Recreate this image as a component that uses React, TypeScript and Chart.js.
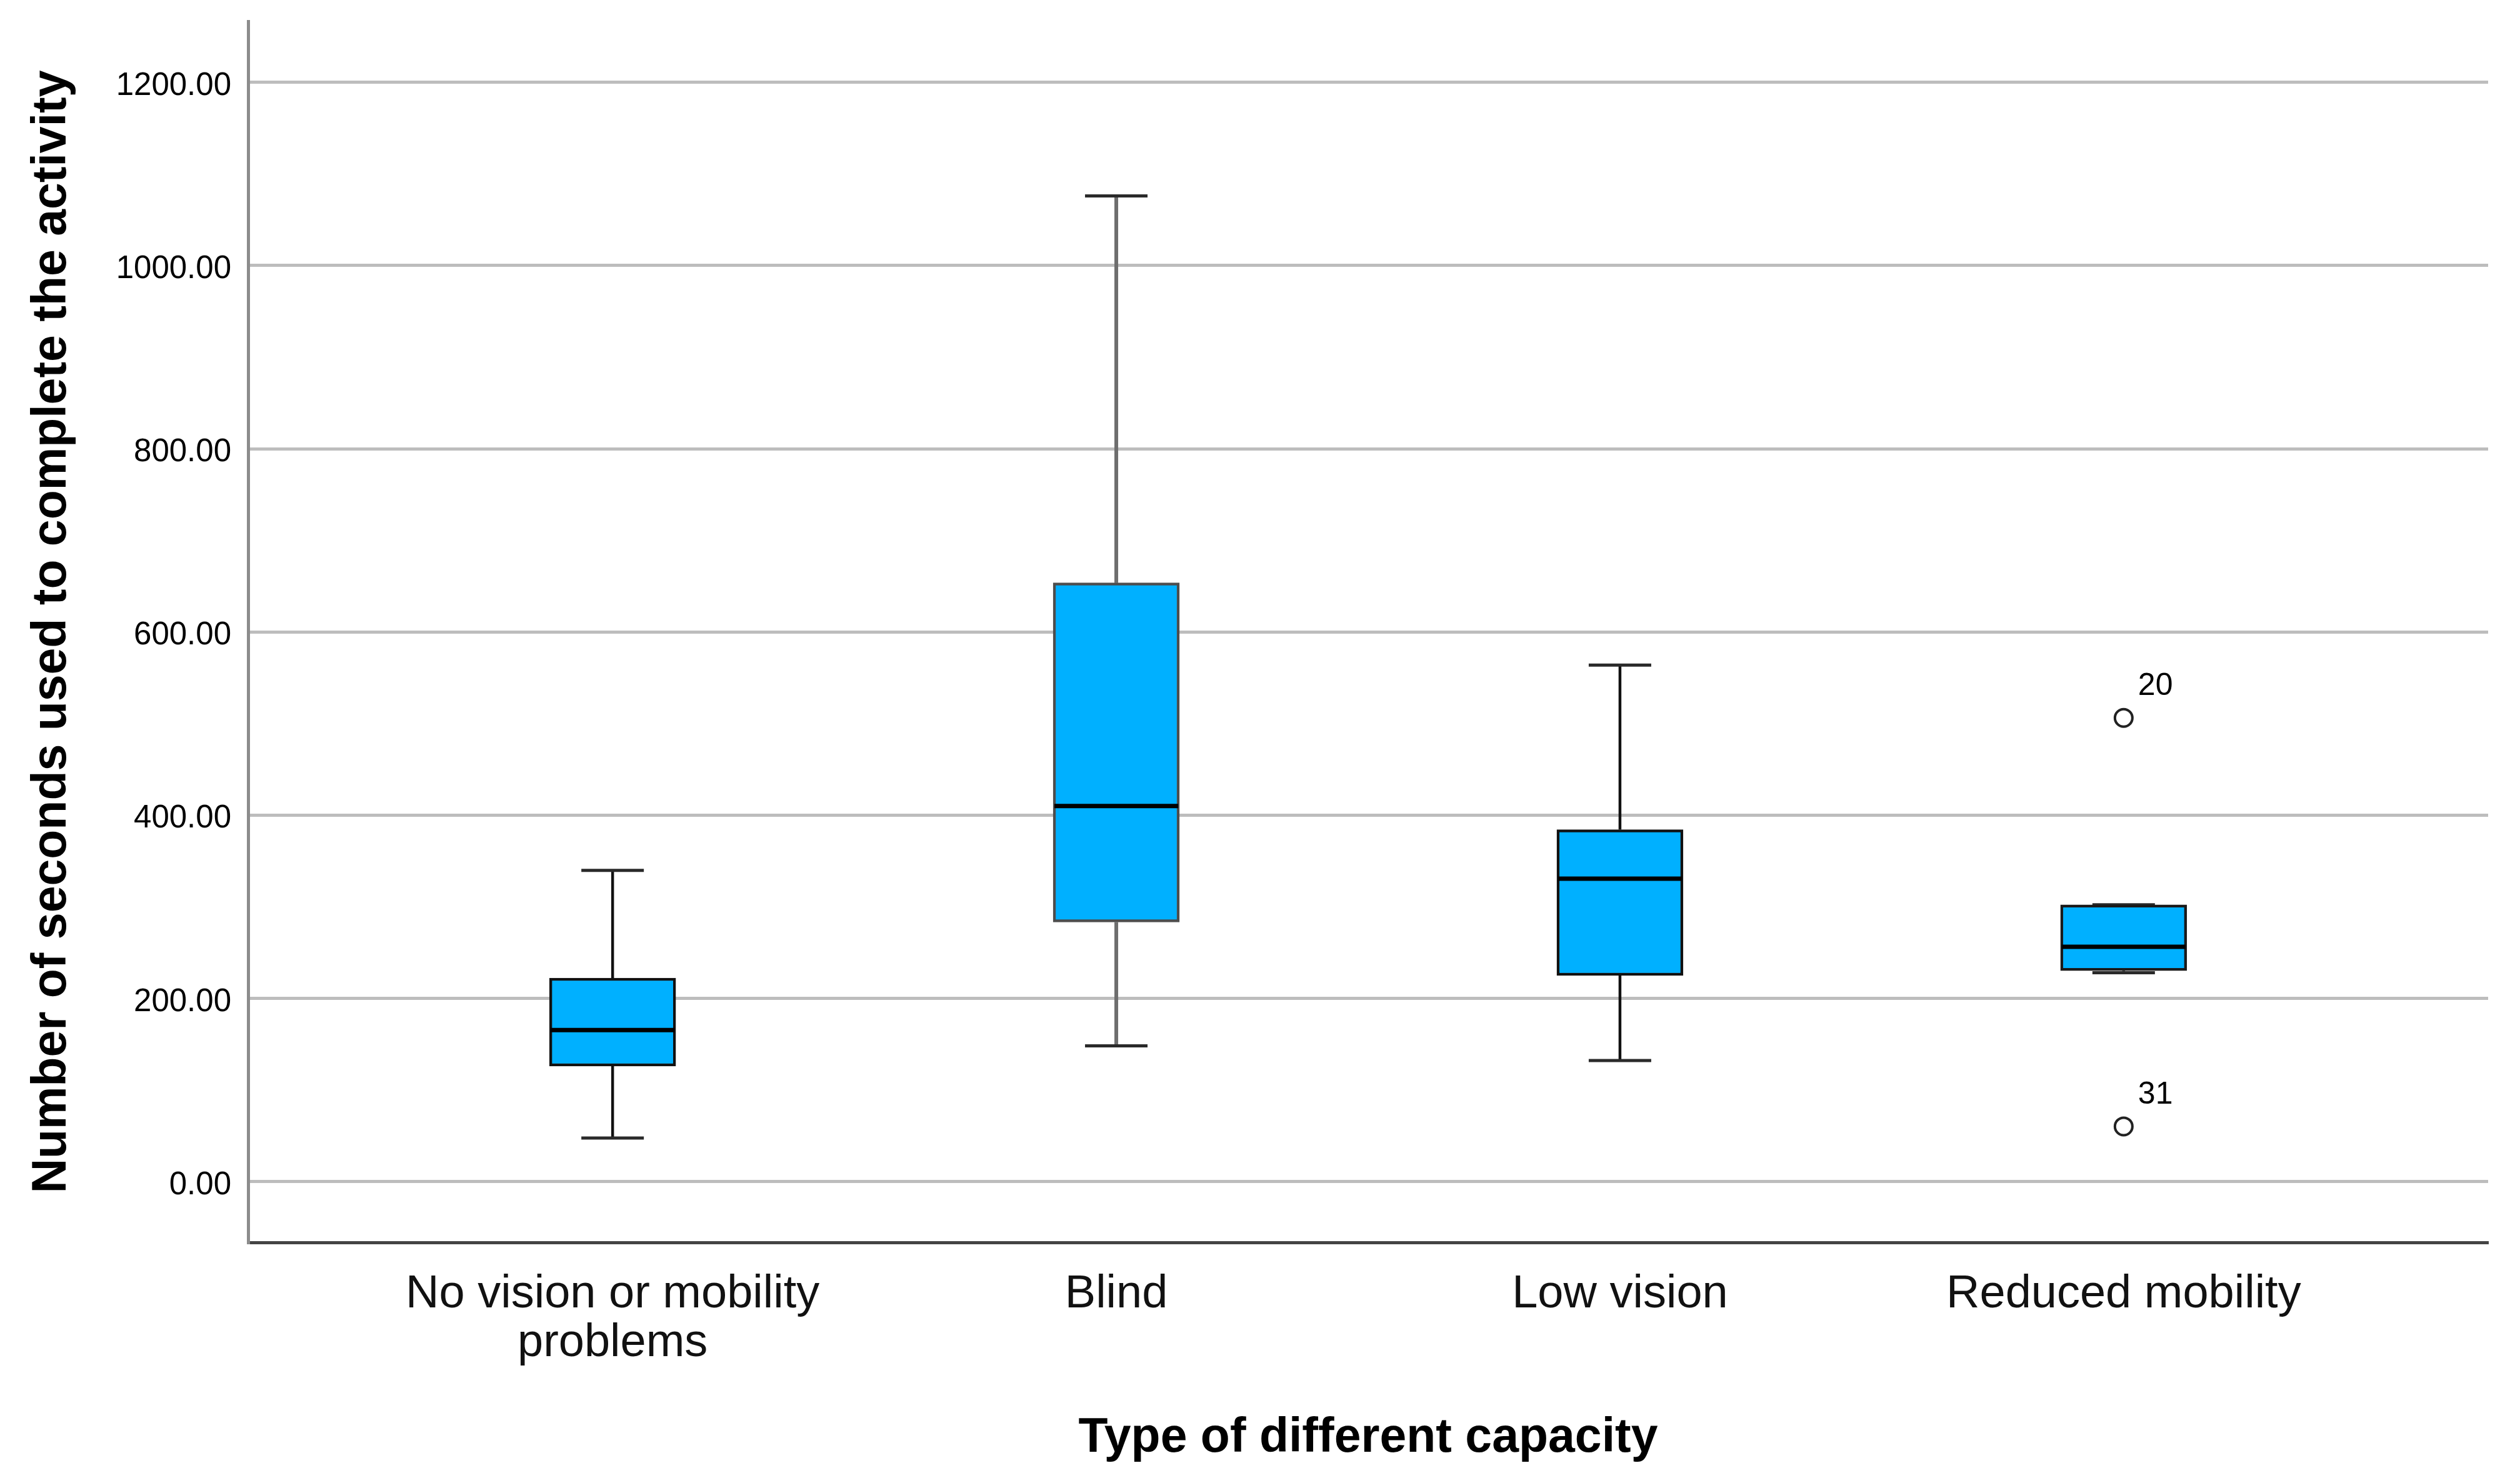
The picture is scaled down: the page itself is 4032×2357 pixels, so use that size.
import React, { useEffect, useRef } from 'react';
import { Chart, registerables } from 'chart.js';

Chart.register(...registerables);

// ---- data ----
const CATEGORIES = ['No vision or mobility problems', 'Blind', 'Low vision', 'Reduced mobility'];
const CATEGORY_LINES = [['No vision or mobility', 'problems'], ['Blind'], ['Low vision'], ['Reduced mobility']];
const WHISKER_MIN = [47.6, 148.2, 132.1, 228.0];
const Q1 = [126.0, 283.3, 224.9, 230.2];
const MEDIAN = [165.4, 410.0, 330.7, 256.3];
const Q3 = [222.2, 653.6, 384.2, 302.2];
const WHISKER_MAX = [339.7, 1076.0, 563.8, 302.2];
const OUTLIER_CATEGORY = [4, 4];
const OUTLIER_VALUES = [506.2, 60.2];
const OUTLIER_LABELS = ['20', '31'];
const Y_TICKS = [0, 200, 400, 600, 800, 1000, 1200];
const Y_MIN = -66.4;
const Y_MAX = 1266.7;
const Y_TITLE = 'Number of seconds used to complete the activity';
const X_TITLE = 'Type of different capacity';

// ---- styles ----
const FONT = "'Liberation Sans', Arial, Helvetica, sans-serif";
const BOX_FILL = '#00b0ff';
const STROKE = ['#111111', '#4d4d4d', '#111111', '#1a1a1a'];
const WHISKER_STROKE = ['#111111', '#6e6e6e', '#111111', '#333333'];
const BOX_WIDTH = 202;
const CAP_WIDTH = 100;

const boxPlugin = {
  id: 'boxWhiskers',
  beforeDatasetsDraw(chart: any) {
    const { ctx, scales } = chart;
    const x = scales.x;
    const y = scales.y;
    ctx.save();
    CATEGORIES.forEach((_, i) => {
      const cx = x.getPixelForValue(i + 1);
      ctx.strokeStyle = WHISKER_STROKE[i];
      ctx.lineWidth = i === 1 ? 6 : 4.5;
      ctx.beginPath();
      ctx.moveTo(cx, y.getPixelForValue(WHISKER_MAX[i]));
      ctx.lineTo(cx, y.getPixelForValue(Q3[i]));
      ctx.moveTo(cx, y.getPixelForValue(Q1[i]));
      ctx.lineTo(cx, y.getPixelForValue(WHISKER_MIN[i]));
      ctx.stroke();
      ctx.lineWidth = 5;
      ctx.strokeStyle = '#2a2a2a';
      ctx.beginPath();
      const yMax = y.getPixelForValue(WHISKER_MAX[i]);
      const yMin = y.getPixelForValue(WHISKER_MIN[i]);
      ctx.moveTo(cx - CAP_WIDTH / 2, yMax);
      ctx.lineTo(cx + CAP_WIDTH / 2, yMax);
      ctx.moveTo(cx - CAP_WIDTH / 2, yMin);
      ctx.lineTo(cx + CAP_WIDTH / 2, yMin);
      ctx.stroke();
    });
    ctx.restore();
  },
  afterDatasetsDraw(chart: any) {
    const { ctx, scales } = chart;
    const x = scales.x;
    const y = scales.y;
    ctx.save();
    CATEGORIES.forEach((_, i) => {
      const cx = x.getPixelForValue(i + 1);
      const ym = y.getPixelForValue(MEDIAN[i]);
      ctx.strokeStyle = '#000000';
      ctx.lineWidth = 7;
      ctx.beginPath();
      ctx.moveTo(cx - BOX_WIDTH / 2 + 2, ym);
      ctx.lineTo(cx + BOX_WIDTH / 2 - 2, ym);
      ctx.stroke();
    });
    const meta = chart.getDatasetMeta(1);
    ctx.fillStyle = '#000000';
    ctx.font = `50px ${FONT}`;
    ctx.textAlign = 'left';
    ctx.textBaseline = 'middle';
    meta.data.forEach((pt: any, i: number) => {
      ctx.fillText(OUTLIER_LABELS[i], pt.x + 23, pt.y - 50);
    });
    ctx.restore();
  },
};

export default function App() {
  const canvasRef = useRef<HTMLCanvasElement | null>(null);

  useEffect(() => {
    document.body.style.margin = '0';
    document.body.style.overflow = 'hidden';
    const canvas = canvasRef.current;
    if (!canvas) return;
    const chart = new Chart(canvas, {
      type: 'bar',
      data: {
        datasets: [
          {
            type: 'bar',
            data: CATEGORIES.map((_, i) => ({ x: i + 1, y: [Q1[i], Q3[i]] })) as any,
            backgroundColor: BOX_FILL,
            borderColor: STROKE,
            borderWidth: 4.5,
            borderSkipped: false,
            barThickness: BOX_WIDTH,
          } as any,
          {
            type: 'scatter',
            data: OUTLIER_VALUES.map((v, i) => ({ x: OUTLIER_CATEGORY[i], y: v })),
            pointStyle: 'circle',
            pointRadius: 14,
            pointBorderWidth: 4,
            borderColor: '#222222',
            backgroundColor: '#ffffff',
            showLine: false,
          } as any,
        ],
      },
      options: {
        animation: false,
        responsive: false,
        devicePixelRatio: 1,
        layout: { padding: { left: 0, right: 51, top: 34, bottom: 0 } },
        plugins: {
          legend: { display: false },
          tooltip: { enabled: false },
        },
        scales: {
          x: {
            type: 'linear',
            offset: false,
            min: 0.2764,
            max: 4.7236,
            afterBuildTicks: (axis: any) => {
              axis.ticks = CATEGORIES.map((_, i) => ({ value: i + 1 }));
            },
            afterFit: (axis: any) => {
              axis.height = 369;
              axis.paddingLeft = 0;
              axis.paddingRight = 0;
            },
            grid: { display: false, drawTicks: false, offset: false },
            border: { display: true, color: '#444444', width: 5 },
            ticks: {
              autoSkip: false,
              maxRotation: 0,
              minRotation: 0,
              padding: 45,
              color: '#111111',
              font: { family: FONT, size: 74, lineHeight: 1.05 },
              callback: (v: any) => CATEGORY_LINES[Math.round(Number(v)) - 1] || '',
            },
            title: {
              display: true,
              text: X_TITLE,
              color: '#000000',
              font: { family: FONT, size: 77, weight: 'bold' },
              padding: { top: 0, bottom: 9 },
            },
          },
          y: {
            type: 'linear',
            min: Y_MIN,
            max: Y_MAX,
            afterBuildTicks: (axis: any) => {
              axis.ticks = Y_TICKS.map((v) => ({ value: v }));
            },
            afterFit: (axis: any) => {
              axis.width = 397;
              axis.paddingTop = 0;
              axis.paddingBottom = 0;
            },
            grid: { display: true, drawTicks: false, color: '#bdbdbd', lineWidth: 5 },
            border: { display: true, color: '#8c8c8c', width: 5 },
            ticks: {
              padding: 27,
              labelOffset: 6,
              color: '#000000',
              font: { family: FONT, size: 51 },
              callback: (v: any) => Number(v).toFixed(2),
            },
            title: {
              display: true,
              text: Y_TITLE,
              color: '#000000',
              font: { family: FONT, size: 77, weight: 'bold' },
              padding: { top: 38, bottom: 0 },
            },
          },
        },
      },
      plugins: [boxPlugin],
    } as any);
    return () => chart.destroy();
  }, []);

  return (
    <div style={{ width: 4032, height: 2357, background: '#ffffff' }}>
      <canvas ref={canvasRef} width={4032} height={2357} style={{ display: 'block', width: 4032, height: 2357 }} />
    </div>
  );
}
